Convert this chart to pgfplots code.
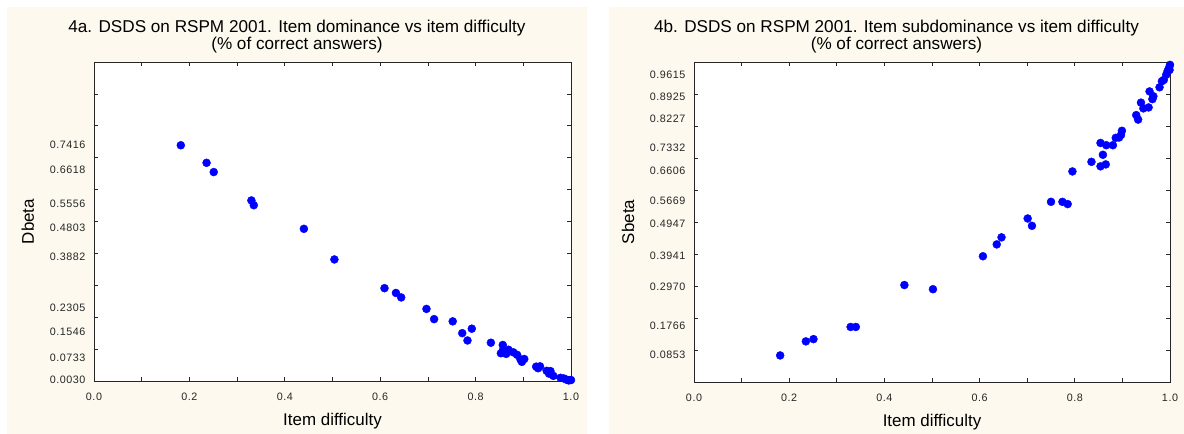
\documentclass[border=0pt]{standalone}
\usepackage{fontspec}
\setmainfont{Liberation Sans}
\newfontfamily\tickfont[LetterSpace=5]{Liberation Sans}
\usepackage{pgfplots}
\pgfplotsset{compat=1.18}
\definecolor{cream}{RGB}{253,249,238}
\definecolor{dotblue}{RGB}{0,0,255}
\pgfplotsset{panel/.style={
  scale only axis, width=476bp, height=319bp,
  xmin=0, xmax=1, ymin=0, ymax=1,
  clip=false,
  axis background/.style={fill=white},
  axis line style={black!85, line width=0.8bp},
  tick align=inside, major tick length=4bp,
  tick style={black!85, line width=0.7bp},
  xtick={0,0.1,0.2,0.3,0.4,0.5,0.6,0.7,0.8,0.9,1},
  xticklabels={0.0,,0.2,,0.4,,0.6,,0.8,,1.0},
  ytick={0,0.1,0.2,0.3,0.4,0.5,0.6,0.7,0.8,0.9,1},
  yticklabels={,,,,,,,,,,},
  extra y tick style={major tick length=0pt},
  /pgf/number format/assume math mode=true,
  ticklabel style={font=\tickfont\fontsize{10.8}{12}\selectfont, text=black!85},
  xticklabel style={yshift=-8bp},
  yticklabel style={xshift=-5bp},
  label style={font=\fontsize{17}{20}\selectfont},
  xlabel style={at={(axis description cs:0.5,-0.125)}, anchor=center},
  ylabel style={at={(axis description cs:-0.1385,0.5)}, anchor=center},
  xlabel={Item difficulty},
}}
\begin{document}
\begin{tikzpicture}
\useasboundingbox (0,0) rectangle (1184bp,434bp);
\fill[cream] (7bp,0) rectangle (587bp,427bp);
\fill[cream] (609bp,0) rectangle (1184bp,427bp);
\node[align=center, font=\fontsize{17.2}{17}\selectfont] at (297bp,397.5bp)
  {4a. DSDS on RSPM 2001. Item dominance vs item difficulty\\(\% of correct answers)};
\node[align=center, font=\fontsize{17.2}{17}\selectfont] at (896.5bp,397.5bp)
  {4b. DSDS on RSPM 2001. Item subdominance vs item difficulty\\(\% of correct answers)};

\begin{axis}[panel, at={(94bp,53bp)}, anchor=south west, width=477bp,
  ylabel={Dbeta},
  extra y ticks={0.0030,0.0733,0.1546,0.2305,0.3882,0.4803,0.5556,0.6618,0.7416},
  extra y tick labels={0.0030,0.0733,0.1546,0.2305,0.3882,0.4803,0.5556,0.6618,0.7416}]
\addplot[only marks, mark=*, mark size=4bp, dotblue, mark options={draw=dotblue, fill=dotblue}] coordinates {
(0.182,0.739) (0.236,0.684) (0.251,0.655) (0.330,0.566) (0.335,0.551)
(0.440,0.477) (0.504,0.381) (0.609,0.291) (0.633,0.276) (0.644,0.262)
(0.697,0.226) (0.713,0.194) (0.752,0.187) (0.772,0.150) (0.792,0.164)
(0.783,0.127) (0.832,0.120) (0.857,0.113) (0.853,0.087) (0.864,0.085)
(0.857,0.095) (0.869,0.098) (0.879,0.090) (0.887,0.082) (0.894,0.068)
(0.902,0.069) (0.897,0.060) (0.927,0.045) (0.935,0.046) (0.931,0.040)
(0.949,0.032) (0.957,0.031) (0.954,0.023) (0.963,0.016) (0.978,0.010)
(0.985,0.008) (0.991,0.004) (0.997,0.003) (1.000,0.003) (0.995,0.002)
};
\end{axis}

\begin{axis}[panel, at={(694bp,52bp)}, anchor=south west, height=320bp,
  ylabel={Sbeta},
  extra y ticks={0.0853,0.1766,0.2970,0.3941,0.4947,0.5669,0.6606,0.7332,0.8227,0.8925,0.9615},
  extra y tick labels={0.0853,0.1766,0.2970,0.3941,0.4947,0.5669,0.6606,0.7332,0.8227,0.8925,0.9615}]
\addplot[only marks, mark=*, mark size=4bp, dotblue, mark options={draw=dotblue, fill=dotblue}] coordinates {
(0.181,0.083) (0.235,0.127) (0.251,0.134) (0.329,0.172) (0.340,0.172)
(0.442,0.303) (0.502,0.290) (0.607,0.393) (0.636,0.430) (0.646,0.452)
(0.701,0.511) (0.710,0.488) (0.750,0.563) (0.774,0.563) (0.785,0.556)
(0.795,0.658) (0.835,0.688) (0.854,0.747) (0.854,0.674) (0.859,0.710)
(0.865,0.680) (0.866,0.740) (0.880,0.740) (0.886,0.763) (0.893,0.764)
(0.897,0.772) (0.899,0.785) (0.929,0.834) (0.933,0.820) (0.939,0.873)
(0.944,0.855) (0.955,0.858) (0.957,0.908) (0.963,0.884) (0.965,0.893)
(0.978,0.921) (0.983,0.940) (0.987,0.944) (0.992,0.960) (0.995,0.972)
(0.998,0.982) (1.000,0.991) (0.999,0.975)
};
\end{axis}
\end{tikzpicture}
\end{document}
